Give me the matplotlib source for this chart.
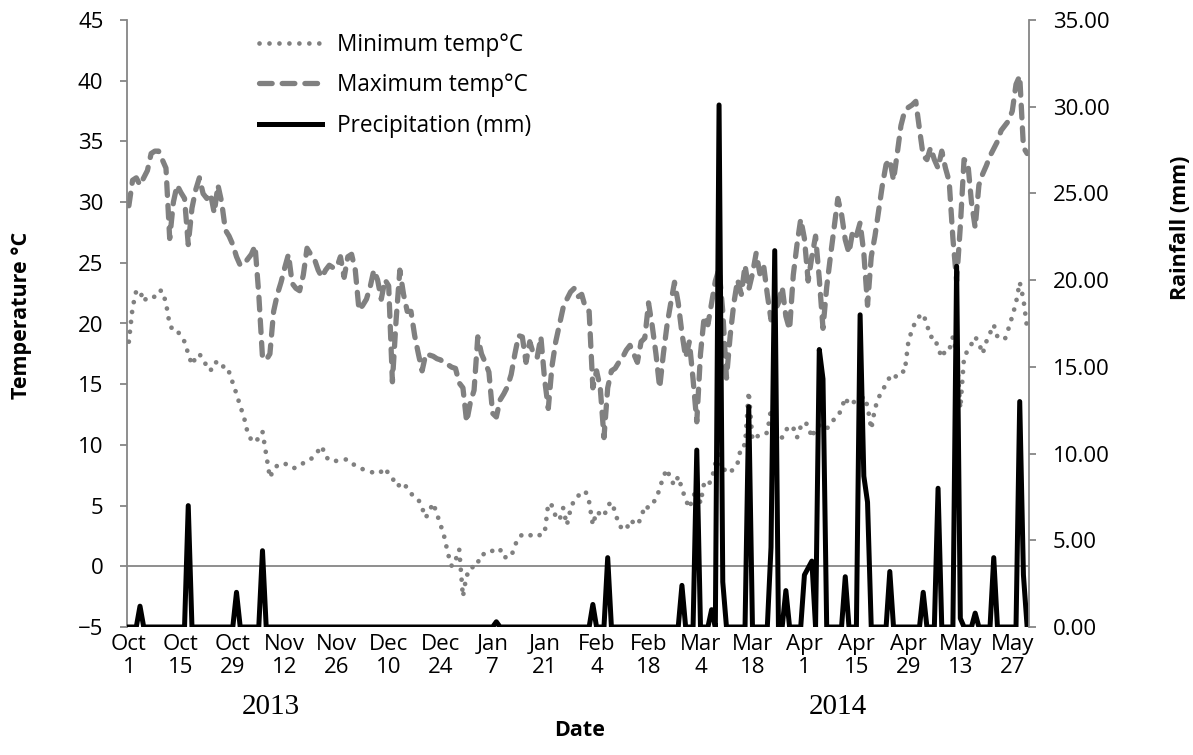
import numpy as np
import pandas as pd
import matplotlib
matplotlib.use('Agg')
import matplotlib.pyplot as plt
from matplotlib.ticker import FormatStrFormatter

plt.rcParams['font.family'] = ['Open Sans', 'DejaVu Sans']

#-------------------------------------------------------
# daily record, 1 Oct 2013 - 31 May 2014
days = pd.date_range('2013-10-01', '2014-05-31', freq='D')

min_temp = [
    18.5, 21.3, 22.7, 22.7, 21.8, 22.2, 22.2, 22.2, 22.7, 22.7,
    21.7, 19.9, 19.4, 19.4, 19.0, 18.5, 17.5, 16.6, 17.2, 17.5,
    17.0, 16.5, 16.1, 16.8, 16.8, 16.8, 16.0, 16.0, 15.1, 14.2,
    13.2, 12.3, 11.0, 10.4, 10.2, 10.6, 11.1, 9.2, 7.3, 8.0,
    8.3, 8.4, 8.5, 8.2, 8.1, 8.1, 8.3, 8.5, 8.6, 8.8,
    9.2, 9.5, 9.9, 9.0, 8.8, 8.6, 8.7, 8.8, 8.8, 8.8,
    8.5, 8.3, 8.2, 8.0, 7.9, 7.8, 7.7, 7.6, 7.8, 8.1,
    7.6, 7.3, 6.6, 6.7, 6.9, 6.4, 6.0, 5.7, 5.5, 4.8,
    4.0, 4.6, 5.2, 4.3, 3.4, 2.4, 1.0, 0.0, 0.5, 1.4,
    -2.5, -0.7, -0.6, 0.3, 0.3, 1.0, 1.0, 1.0, 1.3, 1.5,
    1.4, 0.7, 0.8, 0.8, 1.7, 2.4, 2.6, 2.7, 2.6, 2.4,
    2.5, 2.6, 2.7, 5.2, 5.0, 4.1, 3.8, 4.8, 3.4, 4.7,
    5.5, 5.8, 6.0, 6.2, 5.3, 3.4, 4.5, 4.3, 4.1, 5.0,
    5.3, 4.5, 3.4, 3.1, 3.0, 3.8, 3.6, 3.4, 4.0, 5.0,
    4.8, 5.2, 5.5, 6.4, 7.4, 8.0, 7.1, 6.7, 7.4, 6.4,
    5.5, 4.8, 5.7, 6.4, 5.2, 6.9, 6.7, 7.1, 8.5, 9.2,
    7.8, 8.1, 7.8, 8.0, 8.5, 9.9, 10.0, 14.4, 10.4, 10.6,
    10.9, 10.9, 11.0, 13.0, 10.9, 10.9, 10.6, 11.2, 11.6, 11.4,
    10.6, 11.5, 11.9, 11.6, 10.6, 11.4, 11.6, 11.4, 11.3, 11.8,
    12.1, 12.3, 13.0, 13.9, 13.3, 13.5, 13.6, 13.7, 14.0, 13.2,
    11.3, 13.0, 13.9, 14.5, 15.0, 15.6, 15.4, 15.8, 16.1, 16.0,
    18.5, 19.5, 20.2, 20.6, 20.8, 19.9, 18.9, 18.9, 18.0, 17.2,
    17.8, 17.8, 18.9, 17.5, 13.0, 17.2, 17.8, 18.3, 18.9, 18.4,
    17.5, 18.5, 19.2, 19.9, 18.9, 18.8, 18.7, 19.6, 20.6, 21.7,
    23.4, 22.0, 19.6,
]

max_temp = [
    29.7, 31.8, 32.0, 31.4, 32.0, 32.6, 34.0, 34.2, 34.2, 33.5,
    32.8, 27.0, 30.0, 31.4, 30.8, 30.3, 26.5, 29.5, 31.0, 32.0,
    30.7, 30.3, 30.7, 29.1, 31.4, 30.0, 27.7, 27.2, 26.5, 25.5,
    24.8, 24.9, 25.3, 25.7, 26.4, 22.4, 17.2, 17.0, 17.5, 21.0,
    22.4, 23.4, 24.6, 25.7, 23.3, 22.9, 22.7, 24.0, 26.2, 25.7,
    25.3, 24.4, 23.8, 24.4, 24.8, 24.6, 24.6, 25.5, 23.8, 25.5,
    25.7, 24.4, 21.1, 21.5, 22.0, 23.0, 24.4, 23.6, 22.0, 23.6,
    23.1, 15.2, 20.3, 24.4, 22.4, 21.0, 21.0, 19.0, 17.5, 16.1,
    17.5, 17.4, 17.3, 17.1, 17.0, 16.7, 16.6, 16.4, 16.3, 15.1,
    14.7, 11.9, 13.5, 14.5, 18.9, 17.5, 16.8, 16.0, 12.6, 12.3,
    13.7, 14.2, 14.8, 15.8, 17.5, 19.0, 18.9, 16.8, 18.5, 17.5,
    17.2, 18.9, 15.4, 13.0, 16.5, 18.5, 19.9, 21.3, 22.0, 22.6,
    22.9, 22.2, 22.4, 21.3, 21.0, 14.7, 16.1, 14.7, 10.6, 14.7,
    16.1, 16.3, 16.8, 17.2, 17.8, 18.2, 17.5, 16.8, 18.5, 18.8,
    21.7, 19.8, 17.5, 14.7, 17.5, 19.9, 21.7, 23.4, 21.7, 19.2,
    17.2, 18.5, 15.4, 11.9, 17.5, 20.6, 19.9, 21.7, 23.5, 24.5,
    21.0, 15.5, 19.0, 21.7, 23.6, 22.4, 24.8, 22.8, 24.1, 25.8,
    24.1, 24.8, 22.4, 20.3, 21.0, 21.7, 23.0, 20.6, 19.5, 24.0,
    26.5, 28.6, 27.0, 23.5, 25.5, 27.2, 23.7, 19.6, 23.0, 25.5,
    27.9, 30.3, 29.0, 26.9, 25.8, 27.6, 27.2, 28.3, 25.8, 21.5,
    25.5, 27.2, 29.3, 31.4, 33.1, 33.5, 31.8, 34.0, 36.3, 37.5,
    37.8, 38.0, 38.3, 36.0, 33.8, 33.5, 34.5, 33.5, 32.8, 34.2,
    32.8, 31.7, 27.0, 23.5, 28.0, 33.5, 33.3, 30.0, 27.9, 31.4,
    32.3, 33.0, 33.8, 34.4, 35.0, 35.9, 36.3, 36.7, 37.5, 39.7,
    40.4, 34.5, 34.0,
]

# rain days only, every other day recorded 0 mm
rain_dates = [
    '2013-10-04', '2013-10-17', '2013-10-30', '2013-11-06', '2014-01-08',
    '2014-02-03', '2014-02-07', '2014-02-27', '2014-03-03', '2014-03-07',
    '2014-03-09', '2014-03-10', '2014-03-17', '2014-03-23', '2014-03-24',
    '2014-03-27', '2014-04-01', '2014-04-02', '2014-04-03', '2014-04-05',
    '2014-04-06', '2014-04-12', '2014-04-16', '2014-04-17', '2014-04-18',
    '2014-04-24', '2014-05-03', '2014-05-07', '2014-05-12', '2014-05-13',
    '2014-05-17', '2014-05-22', '2014-05-29', '2014-05-30',
]
rain_mm = [
    1.2, 7.0, 2.0, 4.4, 0.3,
    1.3, 4.0, 2.4, 10.2, 1.0,
    30.1, 2.6, 12.7, 4.6, 21.7,
    2.1, 3.0, 3.4, 3.8, 16.0,
    14.3, 2.9, 18.0, 8.7, 7.2,
    3.2, 2.0, 8.0, 20.8, 0.5,
    0.8, 4.0, 13.0, 3.0,
]
#-------------------------------------------------------

rain = pd.Series(rain_mm, index=pd.to_datetime(rain_dates)).reindex(days, fill_value=0.0)
x = np.arange(len(days))

grey = '#808080'
axis_grey = '#868686'
W, H = 1193, 755

fig = plt.figure(figsize=(W / 100, H / 100), dpi=100)
ax = fig.add_axes([127 / W, 1 - 627 / H, 902 / W, 607 / H])
ax2 = ax.twinx()

ax.axhline(0, color=axis_grey, lw=1.3, zorder=1)
l_min, = ax.plot(x, min_temp, color=grey, lw=3.4, linestyle=(0, (0.01, 2.1)),
                 dash_capstyle='round', label='Minimum temp°C', zorder=3)
l_max, = ax.plot(x, max_temp, color=grey, lw=3.8, linestyle=(0, (2.4, 1.9)),
                 dash_capstyle='round', label='Maximum temp°C', zorder=2)
l_rain, = ax2.plot(x, rain.values, color='black', lw=3.6, solid_joinstyle='round',
                   label='Precipitation (mm)')

ax.set_xlim(-0.5, len(days) - 0.5)
ax.set_ylim(-5, 45)
ax.set_yticks(np.arange(-5, 50, 5))
ax2.set_ylim(0, 35)
ax2.set_yticks(np.arange(0, 40, 5))
ax2.yaxis.set_major_formatter(FormatStrFormatter('%.2f'))

ax.set_xticks(x[::14])
ax.set_xticklabels([f'{d:%b}\n{d.day}' for d in days[::14]], linespacing=1.12)

for a in (ax, ax2):
    for s in ('top', 'bottom'):
        a.spines[s].set_visible(False)
ax.spines['right'].set_visible(False)
ax2.spines['left'].set_visible(False)
ax.spines['left'].set_color(axis_grey)
ax2.spines['right'].set_color(axis_grey)
ax.spines['left'].set_linewidth(1.3)
ax2.spines['right'].set_linewidth(1.3)

ax.tick_params(axis='y', direction='out', length=5, width=1.3, color=axis_grey,
               labelsize=16, pad=12)
ax2.tick_params(axis='y', direction='out', length=5, width=1.3, color=axis_grey,
                labelsize=16, pad=12)
ax.tick_params(axis='x', length=0, labelsize=16, pad=5)

# axis titles and year captions
fig.text(22 / W, 1 - 315 / H, 'Temperature °C', rotation=90, fontsize=15.5,
         fontweight='bold', ha='center', va='center')
fig.text(1180 / W, 1 - 228 / H, 'Rainfall (mm)', rotation=90, fontsize=15.5,
         fontweight='bold', ha='center', va='center')
fig.text(580 / W, 1 - 731 / H, 'Date', fontsize=15.5, fontweight='bold',
         ha='center', va='center')
fig.text(271 / W, 1 - 707 / H, '2013', family='Liberation Serif', fontsize=21,
         ha='center', va='center')
fig.text(838 / W, 1 - 707 / H, '2014', family='Liberation Serif', fontsize=21,
         ha='center', va='center')

ax2.legend(handles=[l_min, l_max, l_rain], loc='upper left',
           bbox_to_anchor=(259 / W, 1 - 33 / H), bbox_transform=fig.transFigure,
           frameon=False, fontsize=16.3, handlelength=2.8, handletextpad=0.65,
           labelspacing=0.72, borderpad=0, borderaxespad=0)

fig.savefig('out.png', dpi=100)
